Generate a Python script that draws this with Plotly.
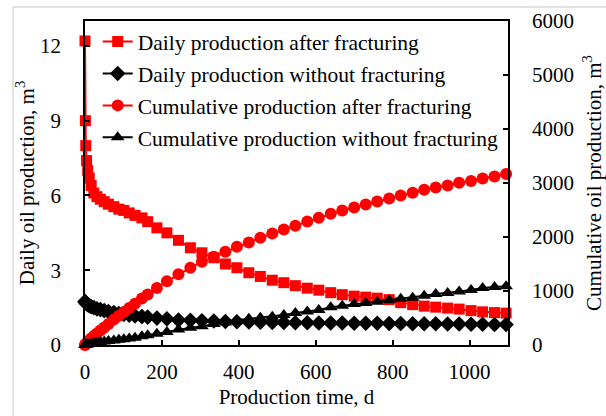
import plotly.graph_objects as go

# Production time, d
t = [0, 1, 2, 4, 7, 11, 16, 23, 31, 40, 50, 61, 75, 88, 101, 115, 130, 148, 163, 187,
     213, 243, 274, 304, 335, 365, 395, 426, 456, 487, 517, 547, 578, 608, 639, 669,
     700, 730, 760, 791, 821, 852, 882, 912, 943, 973, 1004, 1034, 1065, 1095]

# Daily production after fracturing, m3
daily_frac = [12.2, 9.0, 8.0, 7.4, 7.0, 6.7, 6.4, 6.1, 5.95, 5.85, 5.75, 5.65, 5.55, 5.45,
              5.4, 5.3, 5.2, 5.1, 4.95, 4.7, 4.5, 4.2, 3.9, 3.7, 3.5, 3.25, 3.1, 2.9,
              2.75, 2.6, 2.5, 2.38, 2.28, 2.2, 2.1, 2.02, 1.96, 1.92, 1.88, 1.82, 1.7,
              1.62, 1.56, 1.52, 1.48, 1.44, 1.38, 1.33, 1.3, 1.28]

# Daily production without fracturing, m3
daily_nofrac = [1.75, 1.72, 1.7, 1.66, 1.62, 1.58, 1.54, 1.5, 1.45, 1.42, 1.38, 1.34, 1.3,
                1.26, 1.23, 1.2, 1.17, 1.14, 1.12, 1.08, 1.05, 1.0, 0.99, 0.97, 0.96,
                0.94, 0.93, 0.92, 0.91, 0.9, 0.9, 0.89, 0.89, 0.88, 0.88, 0.88, 0.87,
                0.87, 0.87, 0.86, 0.86, 0.85, 0.85, 0.85, 0.84, 0.84, 0.83, 0.83, 0.82, 0.82]

# Cumulative production after fracturing, m3
cum_frac = [0, 10, 20, 35, 60, 90, 120, 165, 215, 270, 325, 390, 470, 540, 610, 685, 765,
            860, 935, 1055, 1180, 1310, 1430, 1540, 1635, 1728, 1820, 1900, 1985, 2065,
            2140, 2210, 2285, 2355, 2430, 2490, 2545, 2600, 2656, 2712, 2768, 2820, 2875,
            2915, 2955, 3005, 3035, 3085, 3120, 3165]

# Cumulative production without fracturing, m3
cum_nofrac = [0, 2, 3, 7, 12, 18, 25, 35, 45, 55, 65, 75, 85, 95, 105, 120, 135, 160, 180,
              210, 240, 285, 320, 345, 390, 415, 460, 485, 505, 525, 557, 594, 620, 650,
              700, 725, 760, 780, 800, 830, 855, 875, 910, 945, 965, 990, 1020, 1055,
              1075, 1090]

FONT = "Liberation Serif"
RED = "#FF0000"

fig = go.Figure()
fig.add_trace(go.Scatter(x=t, y=daily_frac, name="Daily production after fracturing",
                         mode="lines+markers", line=dict(color=RED, width=2),
                         marker=dict(symbol="square", size=11, color=RED),
                         cliponaxis=False, legendgroup="a"))
fig.add_trace(go.Scatter(x=t, y=daily_nofrac, name="Daily production without fracturing",
                         mode="lines+markers", line=dict(color="black", width=2),
                         marker=dict(symbol="diamond", size=12, color="black"),
                         cliponaxis=False, legendgroup="b"))
fig.add_trace(go.Scatter(x=t, y=cum_frac, name="Cumulative production after fracturing",
                         mode="lines+markers", line=dict(color=RED, width=2),
                         marker=dict(symbol="circle", size=12, color=RED),
                         cliponaxis=False, yaxis="y2", legendgroup="c"))
fig.add_trace(go.Scatter(x=t, y=cum_nofrac, name="Cumulative production without fracturing",
                         mode="lines+markers", line=dict(color="black", width=2),
                         marker=dict(symbol="triangle-up", size=12, color="black"),
                         cliponaxis=False, yaxis="y2", legendgroup="d"))

axis_common = dict(showline=True, linecolor="black", linewidth=1.5, ticks="inside",
                   ticklen=5, tickwidth=1.5, tickcolor="black", showgrid=False,
                   zeroline=False, tickfont=dict(family=FONT, size=21, color="black"))

fig.update_layout(
    width=606, height=416,
    margin=dict(l=85, r=98, t=21, b=71, autoexpand=False),
    paper_bgcolor="white", plot_bgcolor="white",
    font=dict(family=FONT, size=21, color="black"),
    xaxis=dict(range=[0, 1100], tickvals=[0, 200, 400, 600, 800, 1000], mirror=True,
               ticklabelstandoff=7,
               title=dict(text="Production time, d", font=dict(family=FONT, size=21),
                          standoff=6),
               **axis_common),
    yaxis=dict(range=[0, 13], tickvals=[0, 3, 6, 9, 12], ticklabelstandoff=18,
               title=dict(text="Daily oil production, m<sup>3</sup>",
                          font=dict(family=FONT, size=21), standoff=0),
               **axis_common),
    yaxis2=dict(range=[0, 6000], tickvals=[0, 1000, 2000, 3000, 4000, 5000, 6000],
                overlaying="y", side="right", ticklabelstandoff=18,
                title=dict(text="Cumulative oil production, m<sup>3</sup>",
                           font=dict(family=FONT, size=21), standoff=14),
                **axis_common),
    legend=dict(x=0.03, y=1.0, xanchor="left", yanchor="top",
                bgcolor="rgba(0,0,0,0)", tracegroupgap=1,
                font=dict(family=FONT, size=21.5, color="black")),
    shapes=[
        dict(type="line", xref="paper", yref="paper", x0=-0.1702, x1=-0.1702,
             y0=1.0432, y1=-0.25, line=dict(color="#d9d9d9", width=1.5)),
        dict(type="line", xref="paper", yref="paper", x0=-0.1702, x1=1.3,
             y0=1.0432, y1=1.0432, line=dict(color="#d9d9d9", width=1.5)),
    ],
)

fig.write_html("out.html")
